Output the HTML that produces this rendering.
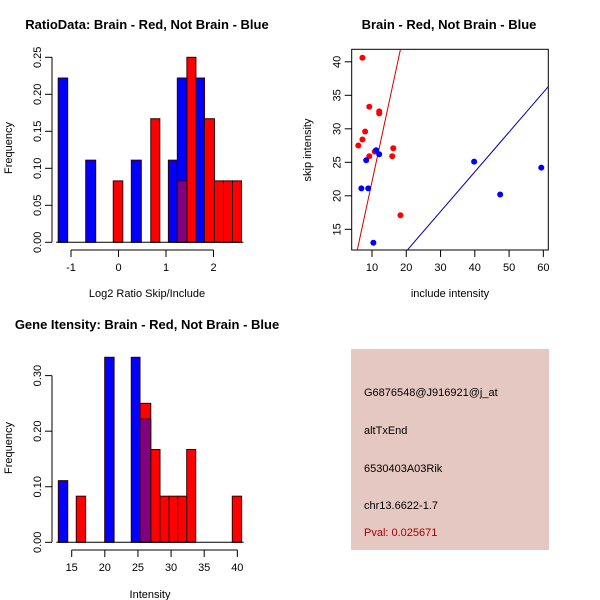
<!DOCTYPE html>
<html><head><meta charset="utf-8"><style>
html,body{margin:0;padding:0;background:#fff;width:600px;height:600px;overflow:hidden}
svg{display:block;font-family:"Liberation Sans",sans-serif}
</style></head><body>
<svg id="c" width="600" height="600" viewBox="0 0 600 600" xmlns="http://www.w3.org/2000/svg">
<text x="147" y="29" font-size="13" font-weight="bold" text-anchor="middle">RatioData: Brain - Red, Not Brain - Blue</text>
<text x="449" y="29" font-size="13" font-weight="bold" text-anchor="middle">Brain - Red, Not Brain - Blue</text>
<text x="147" y="329" font-size="13" font-weight="bold" text-anchor="middle">Gene Itensity: Brain - Red, Not Brain - Blue</text>
<text x="147" y="297" font-size="11" text-anchor="middle">Log2 Ratio Skip/Include</text>
<text x="12" y="148" font-size="11" text-anchor="middle" transform="rotate(-90 12 148)">Frequency</text>
<text x="450" y="297" font-size="11" text-anchor="middle">include intensity</text>
<text x="311" y="150" font-size="11" text-anchor="middle" transform="rotate(-90 311 150)">skip intensity</text>
<text x="150" y="598" font-size="11" text-anchor="middle">Intensity</text>
<text x="12" y="448" font-size="11" text-anchor="middle" transform="rotate(-90 12 448)">Frequency</text>
<g>
<rect x="351" y="349" width="198" height="201" fill="#e6c8c2"/>
<text x="364" y="396" font-size="11">G6876548@J916921@j_at</text>
<text x="364" y="434" font-size="11">altTxEnd</text>
<text x="364" y="472" font-size="11">6530403A03Rik</text>
<text x="364" y="509" font-size="11">chr13.6622-1.7</text>
<text x="364" y="536" font-size="11" fill="#a00000">Pval: 0.025671</text>
</g>
</svg>
<script>
// ---- Ratio histogram data ----
const ratioBlueStart=[-1.27,-0.69,0.27,1.05,1.24,1.63];
const ratioBlueEnd=[-1.07,-0.48,0.48,1.24,1.44,1.81];
const ratioBlueFreq=[0.222,0.111,0.111,0.111,0.222,0.222];
const ratioRedStart=[-0.11,0.68,1.24,1.44,1.81,2.02,2.21,2.40];
const ratioRedEnd=[0.09,0.87,1.44,1.63,2.02,2.21,2.40,2.59];
const ratioRedFreq=[0.083,0.167,0.083,0.25,0.167,0.083,0.083,0.083];
const ratioXTicks=[-1,0,1,2];
const ratioYTicks=["0.00","0.05","0.10","0.15","0.20","0.25"];
// ---- Intensity histogram data ----
const intBlueStart=[12.98,19.98,23.99,25.31];
const intBlueEnd=[14.4,21.4,25.31,26.92];
const intBlueFreq=[0.111,0.333,0.333,0.222];
const intRedStart=[15.69,25.31,26.92,28.33,29.69,31.0,32.36,39.24];
const intRedEnd=[17.1,26.92,28.33,29.69,31.0,32.36,33.72,40.65];
const intRedFreq=[0.083,0.25,0.167,0.083,0.083,0.083,0.167,0.083];
const intXTicks=[15,20,25,30,35,40];
const intYTicks=["0.00","0.10","0.20","0.30"];
// ---- Scatter data ----
const redInclude=[7.2,9.2,12.1,12.1,8.0,7.2,6.0,9.2,16.2,15.9,18.3,10.8];
const redSkip=[40.6,33.3,32.6,32.3,29.6,28.4,27.5,25.9,27.1,25.9,17.1,26.6];
const blueInclude=[11.2,12.1,8.3,6.9,8.9,10.4,39.8,47.4,59.4];
const blueSkip=[26.8,26.2,25.3,21.1,21.1,13.0,25.1,20.2,24.2];
const redFit=[-1.65,2.377];
const blueFit=[-0.14,0.593];
const scXTicks=[10,20,30,40,50,60];
const scYTicks=[15,20,25,30,35,40];

const svg=document.getElementById('c');
const NS="http://www.w3.org/2000/svg";
function mk(tag,attrs,parent){const e=document.createElementNS(NS,tag);for(const k in attrs)e.setAttribute(k,attrs[k]);(parent||svg).appendChild(e);return e;}

function hist(name,xs,ys,blueS,blueE,blueF,redS,redE,redF,xt,yt,yBase,xTickY,yAxisX){
  const g=mk('g',{});
  
  
  function bar(s,e,f,col,nm){
    const r=mk('rect',{x:xs(s),y:ys(f),width:xs(e)-xs(s),height:ys(0)-ys(f),fill:col,stroke:'#300','stroke-width':1},g);
    
    
  }
  blueS.forEach((s,i)=>bar(s,blueE[i],blueF[i],'#0000ff','blue-bar'));
  redS.forEach((s,i)=>bar(s,redE[i],redF[i],'#ff0000','red-bar'));
  redS.forEach((s,i)=>{blueS.forEach((b,j)=>{if(Math.abs(b-s)<0.05){const h=Math.min(redF[i],blueF[j]);
    const top=Math.max(redF[i],blueF[j]);
    // redraw: taller colour first then purple overlap
    bar(s,redE[i],top,redF[i]>blueF[j]?'#ff0000':'#0000ff','overlap-top-bar');
    bar(s,redE[i],h,'#800080','overlap-bar');}});});
  // baseline
  const bl=mk('line',{x1:xs(blueS[0])-2,x2:xs(redE[redE.length-1])+2,y1:ys(0),y2:ys(0),stroke:'#000'},g);
  
  
  // x axis
  const xa=mk('line',{x1:xs(xt[0]),x2:xs(xt[xt.length-1]),y1:xTickY,y2:xTickY,stroke:'#000'},g);
  
  
  xt.forEach(v=>{mk('line',{x1:xs(v),x2:xs(v),y1:xTickY,y2:xTickY+7,stroke:'#000'},g);
    const t=mk('text',{x:xs(v),y:xTickY+21,'font-size':11,'text-anchor':'middle'},g);t.textContent=v;
    
    });
  // y axis
  const yv=yt.map(Number);
  const ya=mk('line',{x1:yAxisX,x2:yAxisX,y1:ys(yv[0]),y2:ys(yv[yv.length-1]),stroke:'#000'},g);
  
  
  yt.forEach(s=>{const v=Number(s);mk('line',{x1:yAxisX-7,x2:yAxisX,y1:ys(v),y2:ys(v),stroke:'#000'},g);
    const tx=yAxisX-11,ty=ys(v);
    const t=mk('text',{x:tx,y:ty,'font-size':11,'text-anchor':'middle',transform:`rotate(-90 ${tx} ${ty})`},g);t.textContent=s;
    
    });
}
hist('ratio-histogram',v=>118.5+47.5*v,f=>242.3-f*740,ratioBlueStart,ratioBlueEnd,ratioBlueFreq,ratioRedStart,ratioRedEnd,ratioRedFreq,ratioXTicks,ratioYTicks,242,250,52);
hist('intensity-histogram',v=>71.7+6.625*(v-15),f=>542.3-f*555.6,intBlueStart,intBlueEnd,intBlueFreq,intRedStart,intRedEnd,intRedFreq,intXTicks,intYTicks,542,550,52);

// scatter
const sx=v=>372+3.427*(v-10), sy=v=>229.3-6.7*(v-15);
const L=351.7,R=548.3,T=49.3,B=250;
const sg=mk('g',{});


const cp=mk('clipPath',{id:'scclip'},sg);mk('rect',{x:L,y:T,width:R-L,height:B-T},cp);
const box=mk('rect',{x:L,y:T,width:R-L,height:B-T,fill:'none',stroke:'#000'},sg);


scXTicks.forEach(v=>{mk('line',{x1:sx(v),x2:sx(v),y1:B,y2:B+7,stroke:'#000'},sg);
  const t=mk('text',{x:sx(v),y:B+21,'font-size':11,'text-anchor':'middle'},sg);t.textContent=v;
  
  });
scYTicks.forEach(v=>{mk('line',{x1:L-7,x2:L,y1:sy(v),y2:sy(v),stroke:'#000'},sg);
  const tx=L-11,ty=sy(v);
  const t=mk('text',{x:tx,y:ty,'font-size':11,'text-anchor':'middle',transform:`rotate(-90 ${tx} ${ty})`},sg);t.textContent=v;
  
  });
function fit(c,col,nm){const x0=0,x1=70;
  const l=mk('line',{x1:sx(x0),y1:sy(c[0]+c[1]*x0),x2:sx(x1),y2:sy(c[0]+c[1]*x1),stroke:col,'clip-path':'url(#scclip)'},sg);
  
  }
fit(redFit,'#cc0000','red-fit-line');
fit(blueFit,'#0000aa','blue-fit-line');
redInclude.forEach((v,i)=>{const c=mk('circle',{cx:sx(v),cy:sy(redSkip[i]),r:3,fill:'#ff0000'},sg);
  
  });
blueInclude.forEach((v,i)=>{const c=mk('circle',{cx:sx(v),cy:sy(blueSkip[i]),r:3,fill:'#0000ff'},sg);
  
  });
</script>
</body></html>
